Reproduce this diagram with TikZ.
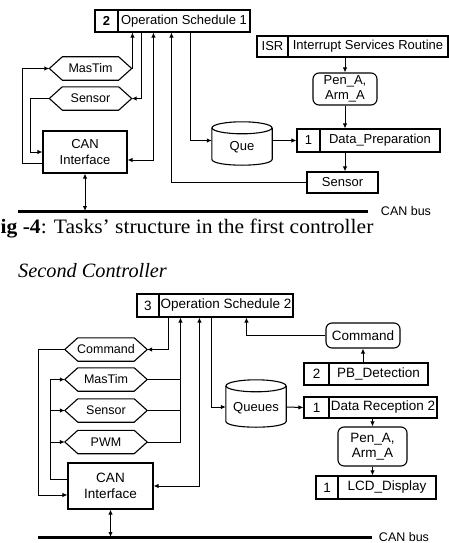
\documentclass[tikz,border=0pt]{standalone}
\usepackage{fontspec}
\setmainfont{Liberation Sans}
\newfontfamily\capfont[FakeStretch=1.05]{Liberation Serif}
\newfontfamily\secfont{Liberation Serif}
\usetikzlibrary{arrows.meta}
\newcommand\hexnode[3]{%
  \node[hexbox] (#1) at (#2) {#3};
  \draw[hexline] (#1.west) -- ([xshift=13pt]#1.north west) -- ([xshift=-13pt]#1.north east) -- (#1.east) -- ([xshift=-13pt]#1.south east) -- ([xshift=13pt]#1.south west) -- cycle;}
\newcommand\cylnode[5]{%
  \node[inner sep=0pt, minimum width=60pt, minimum height=#3pt] (#1) at (#2) {};
  \draw[hexline] ([yshift=-6pt]#1.north) ellipse [x radius=30pt, y radius=6pt];
  \draw[hexline] ([yshift=-6pt]#1.north west) -- ([yshift=6pt]#1.south west) .. controls ([yshift=-2pt]#1.south west) and ([yshift=-2pt]#1.south east) .. ([yshift=6pt]#1.south east) -- ([yshift=-6pt]#1.north east);
  \node[font=\fontsize{13}{15}\selectfont] (#1t) at ([yshift=-#5pt]#1.center) {#4};}
\begin{document}
\begin{tikzpicture}[x=1pt,y=-1pt,
  box/.style={draw, line width=1.1pt, inner sep=1pt, font=\fontsize{13}{15}\selectfont},
  boxb/.style={box, font=\fontsize{13.5}{15}\selectfont},
  rbox/.style={box, rounded corners=6pt, align=center, font=\fontsize{13}{14.5}\selectfont},
  hexbox/.style={inner sep=0pt, font=\fontsize{12.5}{14}\selectfont, minimum width=82pt, minimum height=23pt},
  hexline/.style={line width=1.1pt},
  conn/.style={line width=1pt, -{Latex[length=5pt,width=4.5pt]}},
  dconn/.style={line width=1pt, {Latex[length=5pt,width=4.5pt]}-{Latex[length=5pt,width=4.5pt]}},
  plain/.style={line width=1pt},
  bus/.style={line width=3pt},
  bustext/.style={font=\fontsize{12.5}{14}\selectfont, inner sep=0pt}]
\useasboundingbox (0,0) rectangle (449,543);

% ---------------- first controller ----------------
\node[box, minimum width=23pt, minimum height=22pt] (os1n) at (106.5,21) {\textbf{2}};
\node[box, minimum width=132pt, minimum height=22pt] (os1) at (184,21) {Operation Schedule 1};
\node[box, minimum width=31pt, minimum height=21pt] (isrn) at (272.5,46.5) {ISR};
\node[box, minimum width=160pt, minimum height=21pt] (isr) at (368,46.5) {Interrupt Services Routine};
\node[rbox, minimum width=64pt, minimum height=32pt] (pen1) at (345,89) {Pen\_A,\\Arm\_A};
\node[box, minimum width=23pt, minimum height=23pt] (dp1n) at (308.5,140.5) {1};
\node[box, minimum width=120pt, minimum height=23pt] (dp1) at (380,140.5) {Data\_Preparation};
\node[box, minimum width=71pt, minimum height=21pt] (sen1b) at (342.5,182.5) {Sensor};
\hexnode{mastim1}{90.5,68.5}{MasTim}
\hexnode{sensor1}{90.5,98.5}{Sensor}
\node[box, minimum width=84pt, minimum height=42pt, align=center, font=\fontsize{13}{15.5}\selectfont] (can1) at (85,152) {CAN\\Interface};
\cylnode{que1}{242,143.5}{43}{Que}{4}
\coordinate (bus1a) at (18,211);
\coordinate (bus1b) at (368,211);
\draw[bus] (bus1a) -- (bus1b);
\node[bustext] (bus1t) at (406,211) {CAN bus};

\draw[conn] ([yshift=-11pt]can1.west) -- ++(-20,0) |- (mastim1.west);
\draw[conn] (sensor1.west) -- ++(-19,0) |- (can1.west);
\draw[conn] (mastim1.east) -| ([xshift=15pt]os1.south west);
\draw[conn] ([xshift=24pt]os1.south west) |- (sensor1.east);
\draw[dconn] ([xshift=36pt]os1.south west) |- ([yshift=-8pt]can1.east);
\draw[conn] (sen1b.west) -| ([xshift=54pt]os1.south west);
\draw[conn] ([xshift=73pt]os1.south west) |- ([yshift=3pt]que1.west);
\draw[conn] ([yshift=3pt]que1.east) -- (dp1n.west);
\draw[conn] (isr.south -| pen1.north) -- (pen1.north);
\draw[conn] (pen1.south) -- (pen1.south |- dp1.north);
\draw[conn] (pen1.south |- dp1.south) -- (pen1.south |- sen1b.north);
\draw[dconn] (can1.south) -- (can1.south |- bus1a);

% ---------------- captions ----------------
\node[anchor=base west, inner sep=0pt, font=\capfont\fontsize{20.5}{24}\selectfont] (cap) at (0.5,233) {\textbf{ig -4}: Tasks’ structure in the first controller};
\node[anchor=base west, inner sep=0pt, font=\secfont\itshape\fontsize{20.3}{24}\selectfont] (sec) at (18,277) {Second Controller};

% ---------------- second controller ----------------
\node[boxb, minimum width=22pt, minimum height=23pt] (os2n) at (148,305.5) {3};
\node[boxb, minimum width=134pt, minimum height=23pt] (os2) at (226,305.5) {Operation Schedule 2};
\hexnode{cmd2}{106,349.5}{Command}
\hexnode{mas2}{106,379.5}{MasTim}
\hexnode{sen2}{106,410.5}{Sensor}
\hexnode{pwm2}{106,442}{PWM}
\node[boxb, minimum width=85pt, minimum height=46pt, align=center, font=\fontsize{13.5}{16}\selectfont] (can2) at (110.5,486) {CAN\\Interface};
\cylnode{que2}{256,403.5}{47}{Queues}{5}
\node[boxb, minimum width=25pt, minimum height=21pt] (dr2n) at (316.5,407.5) {1};
\node[boxb, minimum width=108pt, minimum height=21pt] (dr2) at (383,407.5) {Data Reception 2};
\node[boxb, minimum width=25pt, minimum height=22pt] (pb2n) at (316.5,374) {2};
\node[boxb, minimum width=99pt, minimum height=22pt] (pb2) at (378.5,374) {PB\_Detection};
\node[rbox, minimum width=74pt, minimum height=25pt, font=\fontsize{13.5}{15}\selectfont] (cmdb2) at (363,335.5) {Command};
\node[rbox, minimum width=69pt, minimum height=39pt, font=\fontsize{13.5}{14.5}\selectfont] (pen2) at (372.5,446.5) {Pen\_A,\\Arm\_A};
\node[boxb, minimum width=22pt, minimum height=23pt] (lcd2n) at (327,487.5) {1};
\node[boxb, minimum width=98pt, minimum height=23pt] (lcd2) at (387,487.5) {LCD\_Display};
\coordinate (bus2a) at (38,537);
\coordinate (bus2b) at (372,537);
\draw[bus] (bus2a) -- (bus2b);
\node[bustext] (bus2t) at (404,537) {CAN bus};

\draw[conn] ([xshift=10pt]os2.south west) |- (cmd2.east);
\draw[conn] (cmd2.west) -- ++(-26,0) |- ([yshift=-9pt]can2.west);
\draw[conn] (pwm2.east) -| ([xshift=22pt]os2.south west);
\draw[plain] (mas2.east) -- ++(34,0);
\draw[plain] (sen2.east) -- ++(34,0);
\draw[conn] ([yshift=7pt]can2.west) -- ++(-17,0) |- (mas2.west);
\draw[conn] ([xshift=-14pt]sen2.west) -- (sen2.west);
\draw[conn] ([xshift=-14pt]pwm2.west) -- (pwm2.west);
\draw[dconn] ([xshift=41pt]os2.south west) |- (can2.east);
\draw[conn] ([xshift=53pt]os2.south west) |- ([yshift=-3.5pt]que2.west);
\draw[conn] ([yshift=-3.5pt]que2.east) -- (dr2n.west);
\draw[conn] (cmdb2.west) -| ([xshift=88pt]os2.south west);
\draw[conn] (pb2.north -| cmdb2.south) -- (cmdb2.south);
\draw[conn] (dr2.south -| pen2.north) -- (pen2.north);
\draw[conn] (pen2.south) -- (pen2.south |- lcd2.north);
\draw[dconn] (can2.south) -- (can2.south |- bus2a);
\end{tikzpicture}
\end{document}
